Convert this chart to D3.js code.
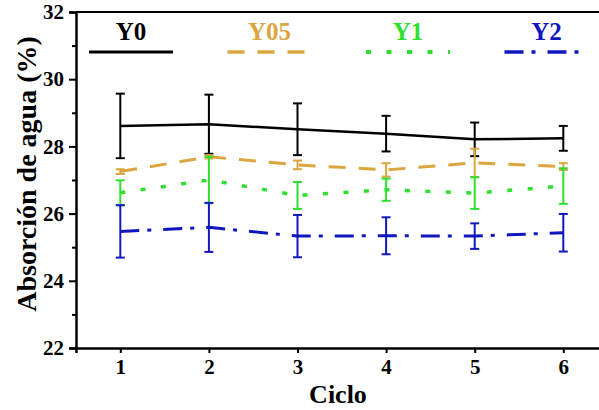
<!DOCTYPE html>
<html>
<head>
<meta charset="utf-8">
<script src="https://cdn.jsdelivr.net/npm/d3@7/dist/d3.min.js"></script>
<style>
  html, body { margin: 0; padding: 0; background: #fff; }
  svg { display: block; }
  text { font-family: "Liberation Serif", "Times New Roman", serif; font-weight: bold; }
</style>
</head>
<body>
<svg id="chart" width="599" height="410"></svg>
<script>
// Water absorption per cycle, mean and standard deviation for each mix
const cycles = [1, 2, 3, 4, 5, 6];
const seriesNames = ["Y0", "Y05", "Y1", "Y2"];
const y0Mean  = [28.61, 28.66, 28.51, 28.38, 28.21, 28.24];
const y0Err   = [0.96, 0.88, 0.77, 0.53, 0.50, 0.37];
const y05Mean = [27.25, 27.69, 27.45, 27.30, 27.51, 27.40];
const y05Err  = [0.07, 0.05, 0.13, 0.20, 0.42, 0.10];
const y1Mean  = [26.62, 27.00, 26.54, 26.71, 26.61, 26.82];
const y1Err   = [0.37, 0.69, 0.40, 0.33, 0.47, 0.53];
const y2Mean  = [25.47, 25.59, 25.33, 25.34, 25.33, 25.43];
const y2Err   = [0.78, 0.73, 0.63, 0.55, 0.38, 0.56];
const yTicks  = [22, 24, 26, 28, 30, 32];
const yMinorTicks = [23, 25, 27, 29, 31];

const styles = {
  Y0:  { color: "#000000", dash: null,          width: 2.5 },
  Y05: { color: "#DBA63E", dash: "17,13",       width: 3 },
  Y1:  { color: "#2EE02E", dash: "5,15.5",      width: 3.5 },
  Y2:  { color: "#1117BE", dash: "19,8,4,12",   width: 3 }
};

const means = [y0Mean, y05Mean, y1Mean, y2Mean];
const errs  = [y0Err, y05Err, y1Err, y2Err];
const series = seriesNames.map((name, i) => ({
  name,
  points: cycles.map((c, j) => ({ c, v: means[i][j], e: errs[i][j] }))
}));

const svg = d3.select("#chart");
const plotLeft = 76, plotTop = 12, plotBottom = 348;

const x = d3.scaleLinear().domain([0.5, 6.5]).range([plotLeft, 607.6]);
const y = d3.scaleLinear().domain([22, 32]).range([plotBottom, plotTop]);

// frame: top border line
svg.append("line")
  .attr("x1", plotLeft).attr("x2", 610).attr("y1", plotTop).attr("y2", plotTop)
  .attr("stroke", "#000").attr("stroke-width", 1.8);

// y axis (major + minor ticks)
svg.append("g").attr("transform", `translate(${plotLeft},0)`)
  .call(d3.axisLeft(y).tickValues(yTicks).tickSize(7).tickPadding(5).tickFormat(d3.format("d")));
svg.append("g").attr("transform", `translate(${plotLeft},0)`)
  .call(d3.axisLeft(y).tickValues(yMinorTicks).tickSize(4).tickFormat(""))
  .call(g => g.select(".domain").remove());

// x axis
svg.append("g").attr("transform", `translate(0,${plotBottom})`)
  .call(d3.axisBottom(x).tickValues(cycles).tickSize(5).tickPadding(6).tickFormat(d3.format("d")));

svg.selectAll(".domain").attr("stroke", "#000").attr("stroke-width", 2.5);
svg.selectAll(".tick line").attr("stroke", "#000").attr("stroke-width", 2);
svg.selectAll(".tick text").attr("fill", "#000")
  .style("font-size", "21px").style("font-family", "'Liberation Serif', 'Times New Roman', serif")
  .style("font-weight", "bold");

// axis titles
svg.append("text")
  .attr("x", 338).attr("y", 403).attr("text-anchor", "middle")
  .style("font-size", "26px").text("Ciclo");
svg.append("text")
  .attr("transform", "translate(36,174) rotate(-90)")
  .attr("text-anchor", "middle")
  .style("font-size", "28px").text("Absorción de agua (%)");

// series lines and error bars
const line = d3.line().x(d => x(d.c)).y(d => y(d.v));
const capHalf = 4.5;

series.forEach(s => {
  const st = styles[s.name];
  const g = svg.append("g");
  g.append("path")
    .datum(s.points)
    .attr("d", line)
    .attr("fill", "none")
    .attr("stroke", st.color)
    .attr("stroke-width", st.width)
    .attr("stroke-dasharray", st.dash);

  const eb = g.selectAll(".eb").data(s.points).join("g");
  eb.append("line")
    .attr("x1", d => x(d.c)).attr("x2", d => x(d.c))
    .attr("y1", d => y(d.v - d.e)).attr("y2", d => y(d.v + d.e))
    .attr("stroke", st.color).attr("stroke-width", 2);
  eb.append("line")
    .attr("x1", d => x(d.c) - capHalf).attr("x2", d => x(d.c) + capHalf)
    .attr("y1", d => y(d.v + d.e)).attr("y2", d => y(d.v + d.e))
    .attr("stroke", st.color).attr("stroke-width", 2);
  eb.append("line")
    .attr("x1", d => x(d.c) - capHalf).attr("x2", d => x(d.c) + capHalf)
    .attr("y1", d => y(d.v - d.e)).attr("y2", d => y(d.v - d.e))
    .attr("stroke", st.color).attr("stroke-width", 2);
});

// legend across the top of the plot
const legend = svg.append("g");
seriesNames.forEach((name, i) => {
  const st = styles[name];
  const x0 = 89 + i * 138.5, len = 84;
  legend.append("line")
    .attr("x1", x0).attr("x2", x0 + len).attr("y1", 52).attr("y2", 52)
    .attr("stroke", st.color).attr("stroke-width", st.width + 0.5)
    .attr("stroke-dasharray", st.dash);
  legend.append("text")
    .attr("x", x0 + len / 2).attr("y", 40).attr("text-anchor", "middle")
    .attr("fill", st.color)
    .style("font-size", "25px").text(name);
});
</script>
</body>
</html>
